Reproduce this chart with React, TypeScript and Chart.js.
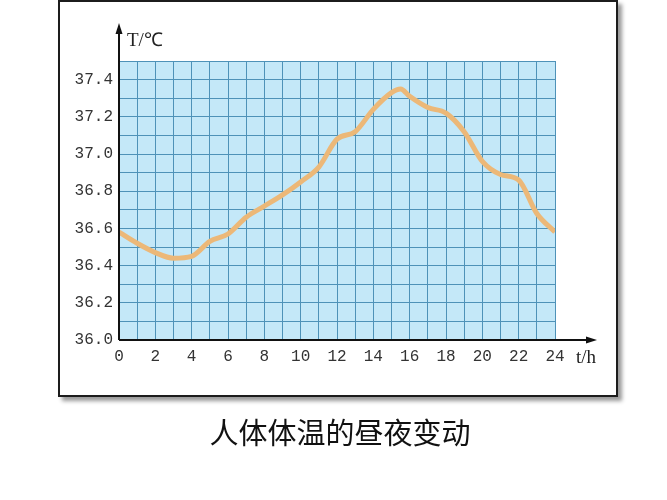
import React, { useEffect, useRef } from "react";
import { Chart, registerables } from "chart.js";

Chart.register(...registerables);

const hours: number[] = [0, 1, 2, 3, 4, 5, 6, 7, 8, 9, 10, 11, 12, 13, 14, 15, 15.5, 16, 17, 18, 19, 20, 21, 22, 23, 24];
const temps: number[] = [36.58, 36.52, 36.47, 36.44, 36.45, 36.53, 36.57, 36.66, 36.72, 36.78, 36.85, 36.93, 37.08, 37.12, 37.24, 37.33, 37.35, 37.31, 37.25, 37.22, 37.12, 36.96, 36.89, 36.86, 36.68, 36.58];
const yAxisTitle = "T/℃";
const xAxisTitle = "t/h";
const caption = "人体体温的昼夜变动";

const axisPlugin = {
  id: "axisDecor",
  beforeDraw(chart: any) {
    const { ctx, chartArea } = chart;
    ctx.save();
    ctx.fillStyle = "#c4e8f8";
    ctx.fillRect(chartArea.left, chartArea.top, chartArea.right - chartArea.left, chartArea.bottom - chartArea.top);
    ctx.restore();
  },
  afterDraw(chart: any) {
    const { ctx, chartArea } = chart;
    const l = chartArea.left;
    const b = chartArea.bottom;
    const yTip = chartArea.top - 38;
    const xTip = chartArea.right + 42;
    ctx.save();
    ctx.strokeStyle = "#111";
    ctx.fillStyle = "#111";
    ctx.lineWidth = 2;
    ctx.beginPath();
    ctx.moveTo(l, b);
    ctx.lineTo(l, yTip + 6);
    ctx.moveTo(l, b);
    ctx.lineTo(xTip - 6, b);
    ctx.stroke();
    ctx.beginPath();
    ctx.moveTo(l, yTip);
    ctx.lineTo(l - 3.5, yTip + 11);
    ctx.lineTo(l + 3.5, yTip + 11);
    ctx.closePath();
    ctx.fill();
    ctx.beginPath();
    ctx.moveTo(xTip, b);
    ctx.lineTo(xTip - 11, b - 3.5);
    ctx.lineTo(xTip - 11, b + 3.5);
    ctx.closePath();
    ctx.fill();
    ctx.font = '19px "Liberation Serif"';
    ctx.fillStyle = "#222";
    ctx.textBaseline = "middle";
    ctx.textAlign = "left";
    ctx.fillText(yAxisTitle, l + 8, yTip + 18);
    ctx.fillText(xAxisTitle, xTip - 21, b + 18);
    ctx.restore();
  },
};

export default function App() {
  const ref = useRef<HTMLCanvasElement>(null);
  useEffect(() => {
    if (!ref.current) return;
    const chart = new Chart(ref.current, {
      type: "line",
      data: {
        datasets: [
          {
            data: hours.map((h, i) => ({ x: h, y: temps[i] })),
            borderColor: "#ecb878",
            borderWidth: 5,
            pointRadius: 0,
            tension: 0.4,
            cubicInterpolationMode: "monotone",
            fill: false,
          },
        ],
      },
      options: {
        animation: false,
        responsive: false,
        maintainAspectRatio: false,
        layout: { padding: { left: 0, top: 61, right: 112, bottom: 0 } },
        plugins: { legend: { display: false }, tooltip: { enabled: false }, title: { display: false } },
        scales: {
          x: {
            type: "linear",
            min: 0,
            max: 24,
            border: { display: false },
            grid: { color: "#4e92b8", lineWidth: 1, drawTicks: false },
            ticks: {
              stepSize: 1,
              autoSkip: false,
              maxRotation: 0,
              padding: 7,
              color: "#333",
              font: { family: '"Liberation Mono", monospace', size: 16 },
              callback: (v: any) => (Math.round(v) % 2 === 0 ? String(Math.round(v)) : ""),
            },
            afterFit: (s: any) => {
              s.height = 160;
            },
          },
          y: {
            min: 36.0,
            max: 37.5,
            border: { display: false },
            grid: { color: "#4e92b8", lineWidth: 1, drawTicks: false },
            ticks: {
              stepSize: 0.1,
              autoSkip: false,
              padding: 6,
              color: "#333",
              font: { family: '"Liberation Mono", monospace', size: 16 },
              callback: (v: any) => {
                const k = Math.round(Number(v) * 10);
                return k % 2 === 0 && k < 375 ? (k / 10).toFixed(1) : "";
              },
            },
            afterFit: (s: any) => {
              s.width = 119;
            },
          },
        },
      },
      plugins: [axisPlugin],
    });
    return () => chart.destroy();
  }, []);

  return (
    <div style={{ position: "absolute", left: 0, top: 0, width: 667, height: 500, background: "#fff" }}>
      <div
        style={{
          position: "absolute",
          left: 58,
          top: 0,
          width: 560,
          height: 397,
          boxSizing: "border-box",
          border: "2px solid #1c1c1c",
          boxShadow: "4px 4px 4px #999",
        }}
      />
      <canvas ref={ref} width={667} height={500} style={{ position: "absolute", left: 0, top: 0, width: 667, height: 500 }} />
      <div
        style={{
          position: "absolute",
          left: 0,
          top: 414,
          width: 680,
          textAlign: "center",
          fontFamily: '"Noto Sans CJK SC", sans-serif',
          fontSize: 29,
          lineHeight: "34px",
          color: "#111",
        }}
      >
        {caption}
      </div>
    </div>
  );
}
